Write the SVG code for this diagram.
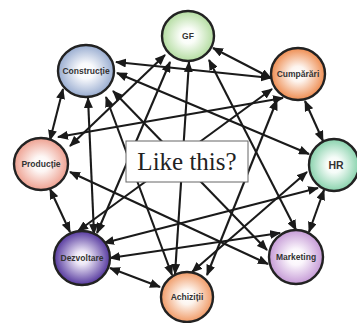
<svg xmlns="http://www.w3.org/2000/svg" width="357" height="323" viewBox="0 0 357 323">
<style>
.edge{stroke:#1a1a1a;stroke-width:2.1;fill:none;marker-start:url(#ah);marker-end:url(#ah)}
.node ellipse{stroke:#222;stroke-width:2.4}
.node text{font-family:"Liberation Sans",Arial,sans-serif;font-weight:bold;font-size:8.5px;fill:#333;text-anchor:middle}
.lbl rect{fill:#fff;stroke:#666;stroke-width:1}
.lbl text{font-family:"Liberation Serif","Times New Roman",serif;font-size:25px;fill:#222;text-anchor:middle}
</style>
<defs>
<marker id="ah" markerUnits="userSpaceOnUse" markerWidth="11" markerHeight="9" refX="10" refY="4.5" orient="auto-start-reverse" viewBox="0 0 11 9">
<path d="M0,0 L11,4.5 L0,9 z" fill="#1a1a1a"/>
</marker>
<radialGradient id="gGF"><stop offset="0" stop-color="#fff"/><stop offset="0.3" stop-color="#fafdf8"/><stop offset="1" stop-color="#b3dca0"/></radialGradient>
<radialGradient id="gCo"><stop offset="0" stop-color="#fff"/><stop offset="0.3" stop-color="#f8f9fc"/><stop offset="1" stop-color="#98acd0"/></radialGradient>
<radialGradient id="gCu"><stop offset="0" stop-color="#fff"/><stop offset="0.3" stop-color="#fdf4ee"/><stop offset="1" stop-color="#ee8c50"/></radialGradient>
<radialGradient id="gHR"><stop offset="0" stop-color="#fff"/><stop offset="0.3" stop-color="#f5fcf8"/><stop offset="1" stop-color="#88d2ac"/></radialGradient>
<radialGradient id="gPr"><stop offset="0" stop-color="#fff"/><stop offset="0.3" stop-color="#fdf6f4"/><stop offset="1" stop-color="#eea090"/></radialGradient>
<radialGradient id="gDe"><stop offset="0" stop-color="#fff"/><stop offset="0.25" stop-color="#ece6f6"/><stop offset="1" stop-color="#55389e"/></radialGradient>
<radialGradient id="gAc"><stop offset="0" stop-color="#fff"/><stop offset="0.3" stop-color="#fdf5ef"/><stop offset="1" stop-color="#f09a66"/></radialGradient>
<radialGradient id="gMa"><stop offset="0" stop-color="#fff"/><stop offset="0.3" stop-color="#fbf6fc"/><stop offset="1" stop-color="#c59ad6"/></radialGradient>
</defs>
<g id="connectors">
<line class="edge" x1="213" y1="48" x2="271" y2="78"/>
<line class="edge" x1="165" y1="55" x2="70" y2="146"/>
<line class="edge" x1="170" y1="62" x2="97" y2="233"/>
<line class="edge" x1="189" y1="62" x2="175" y2="274"/>
<line class="edge" x1="209" y1="60" x2="296" y2="230"/>
<line class="edge" x1="116" y1="62" x2="271" y2="78"/>
<line class="edge" x1="117" y1="73" x2="309" y2="154"/>
<line class="edge" x1="63" y1="89" x2="50" y2="140"/>
<line class="edge" x1="88" y1="98" x2="94" y2="234"/>
<line class="edge" x1="106" y1="97" x2="172" y2="275"/>
<line class="edge" x1="113" y1="91" x2="267" y2="250"/>
<line class="edge" x1="305" y1="101" x2="323" y2="141"/>
<line class="edge" x1="283" y1="98" x2="58" y2="137"/>
<line class="edge" x1="272" y1="89" x2="78" y2="231"/>
<line class="edge" x1="277" y1="100" x2="207" y2="275"/>
<line class="edge" x1="324" y1="190" x2="309" y2="232"/>
<line class="edge" x1="318" y1="188" x2="104" y2="243"/>
<line class="edge" x1="307" y1="172" x2="192" y2="272"/>
<line class="edge" x1="50" y1="189" x2="70" y2="232"/>
<line class="edge" x1="70" y1="172" x2="268" y2="264"/>
<line class="edge" x1="110" y1="268" x2="160" y2="287"/>
<line class="edge" x1="110" y1="258" x2="280" y2="233"/>
</g>
<g id="gf" class="node"><ellipse cx="188" cy="36" rx="26" ry="25" fill="url(#gGF)"/><text x="188" y="39">GF</text></g>
<g id="constructie" class="node"><ellipse cx="86" cy="71" rx="28" ry="26" fill="url(#gCo)"/><text x="86" y="74">Construcție</text></g>
<g id="cumparari" class="node"><ellipse cx="298" cy="74" rx="27" ry="26" fill="url(#gCu)"/><text x="298" y="77">Cumpărări</text></g>
<g id="hr" class="node"><ellipse cx="334" cy="165" rx="25" ry="26" fill="url(#gHR)"/><text x="336" y="169" style="font-size:10.5px">HR</text></g>
<g id="productie" class="node"><ellipse cx="41" cy="164" rx="27" ry="26" fill="url(#gPr)"/><text x="41" y="167">Producție</text></g>
<g id="dezvoltare" class="node"><ellipse cx="82" cy="258" rx="28" ry="27" fill="url(#gDe)"/><text x="82" y="261">Dezvoltare</text></g>
<g id="achizitii" class="node"><ellipse cx="187" cy="297" rx="26" ry="25" fill="url(#gAc)"/><text x="187" y="300">Achiziții</text></g>
<g id="marketing" class="node"><ellipse cx="296" cy="257" rx="27" ry="27" fill="url(#gMa)"/><text x="296" y="260">Marketing</text></g>
<g id="label" class="lbl"><rect x="126" y="141" width="122" height="41"/><text x="187" y="170">Like this?</text></g>
</svg>
